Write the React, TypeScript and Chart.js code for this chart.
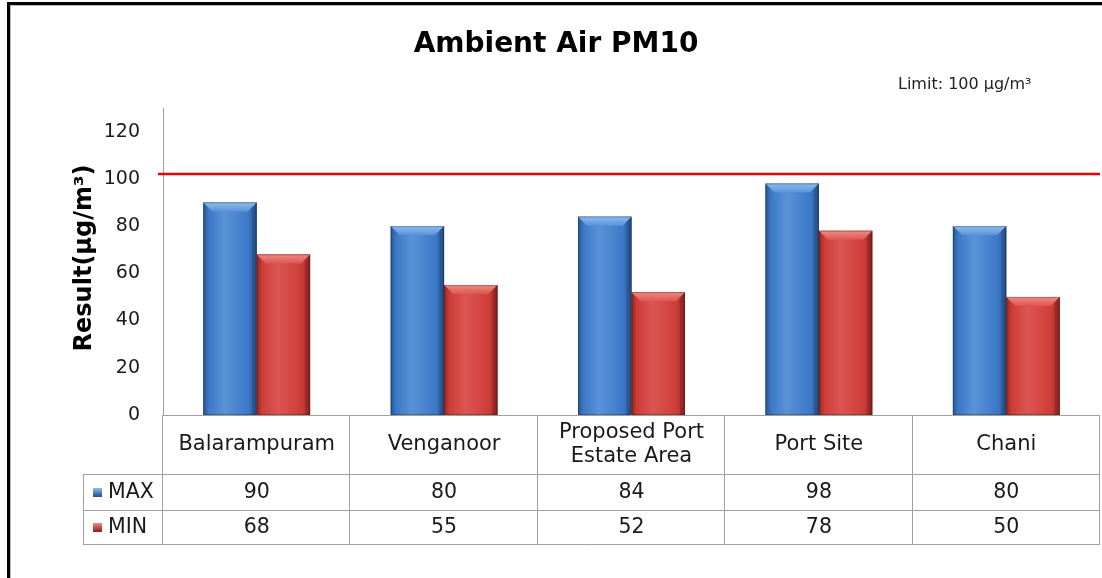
import React, { useEffect, useRef } from "react";
import { Chart, registerables } from "chart.js";

Chart.register(...registerables);

// ---- data ----
const categories: string[][] = [
  ["Balarampuram"],
  ["Venganoor"],
  ["Proposed Port", "Estate Area"],
  ["Port Site"],
  ["Chani"],
];
const maxValues: number[] = [90, 80, 84, 98, 80];
const minValues: number[] = [68, 55, 52, 78, 50];
const seriesNames: string[] = ["MAX", "MIN"];
const yTicks: number[] = [0, 20, 40, 60, 80, 100, 120];
const limitLineValue = 102; // red limit line as drawn in the picture
const titleText = "Ambient Air PM10";
const limitText = "Limit: 100 µg/m³";
const yTitleText = "Result(µg/m³)";

const FONT = "'DejaVu Sans', Verdana, sans-serif";

const palette = {
  blue: { mid: "#3b78c6", light: "#5a92d8", dark: "#2a5690", top: "#8fbcf0" },
  red: { mid: "#cd3d38", light: "#dc5550", dark: "#962623", top: "#f08a84" },
};

const bevelPlugin = {
  id: "bevel",
  afterDatasetsDraw(chart: any) {
    const ctx = chart.ctx;
    chart.data.datasets.forEach((ds: any, di: number) => {
      const meta = chart.getDatasetMeta(di);
      const pal = di === 0 ? palette.blue : palette.red;
      meta.data.forEach((bar: any) => {
        const { x, y, base, width } = bar.getProps(["x", "y", "base", "width"], true);
        const L = x - width / 2;
        const R = x + width / 2;
        const T = y;
        const B = base;
        ctx.save();
        const g = ctx.createLinearGradient(L, 0, R, 0);
        g.addColorStop(0, pal.dark);
        g.addColorStop(0.1, pal.mid);
        g.addColorStop(0.4, pal.light);
        g.addColorStop(0.85, pal.mid);
        g.addColorStop(1, pal.dark);
        ctx.fillStyle = g;
        ctx.fillRect(L, T, R - L, B - T);
        // top bevel
        const b = 9;
        const tg = ctx.createLinearGradient(0, T, 0, T + b);
        tg.addColorStop(0, pal.top);
        tg.addColorStop(1, pal.light);
        ctx.fillStyle = tg;
        ctx.beginPath();
        ctx.moveTo(L, T);
        ctx.lineTo(R, T);
        ctx.lineTo(R - b, T + b);
        ctx.lineTo(L + b, T + b);
        ctx.closePath();
        ctx.fill();
        // right side shade
        ctx.fillStyle = "rgba(0,0,0,0.12)";
        ctx.beginPath();
        ctx.moveTo(R, T);
        ctx.lineTo(R, B);
        ctx.lineTo(R - 5, B);
        ctx.lineTo(R - 5, T + 5);
        ctx.closePath();
        ctx.fill();
        ctx.strokeStyle = "rgba(0,0,0,0.25)";
        ctx.lineWidth = 1;
        ctx.strokeRect(L + 0.5, T + 0.5, R - L - 1, B - T - 1);
        ctx.restore();
      });
    });
  },
};

const decorPlugin = {
  id: "decor",
  afterDraw(chart: any) {
    const ctx = chart.ctx;
    const area = chart.chartArea;
    const xs = chart.scales.x;
    const ys = chart.scales.y;
    ctx.save();
    // frame
    ctx.fillStyle = "#000";
    ctx.fillRect(7, 2, 1102 - 7, 3);
    ctx.fillRect(7, 2, 3, 578);
    ctx.fillStyle = "#bbb";
    ctx.fillRect(10, 5, 1102 - 10, 1);
    ctx.fillRect(10, 5, 1, 578);

    // title
    ctx.fillStyle = "#000";
    ctx.font = `bold 28px ${FONT}`;
    ctx.textAlign = "center";
    ctx.textBaseline = "middle";
    ctx.fillText(titleText, 556, 45);

    // limit text
    ctx.font = `16px ${FONT}`;
    ctx.fillStyle = "#222";
    ctx.textAlign = "left";
    ctx.fillText(limitText, 898, 85);

    // y title
    ctx.save();
    ctx.translate(85, 258);
    ctx.rotate(-Math.PI / 2);
    ctx.font = `bold 24px ${FONT}`;
    ctx.fillStyle = "#000";
    ctx.textAlign = "center";
    ctx.fillText(yTitleText, 0, 0);
    ctx.restore();

    // limit line
    const ly = ys.getPixelForValue(limitLineValue);
    ctx.strokeStyle = "#e8000b";
    ctx.lineWidth = 2.5;
    ctx.beginPath();
    ctx.moveTo(area.left - 5, ly);
    ctx.lineTo(area.right, ly);
    ctx.stroke();

    // data table
    const n = categories.length;
    const step = (area.right - area.left) / n;
    const top = area.bottom;
    const r1 = top + 59;
    const r2 = r1 + 36;
    const r3 = r2 + 34;
    const legLeft = 83;
    ctx.strokeStyle = "#a0a0a0";
    ctx.lineWidth = 1;
    ctx.beginPath();
    ctx.moveTo(area.left, top + 0.5);
    ctx.lineTo(area.right, top + 0.5);
    [r1, r2, r3].forEach((yy) => {
      ctx.moveTo(legLeft, yy + 0.5);
      ctx.lineTo(area.right, yy + 0.5);
    });
    for (let i = 0; i <= n; i++) {
      const xx = Math.round(area.left + i * step) - 0.5;
      ctx.moveTo(xx, top);
      ctx.lineTo(xx, r3);
    }
    ctx.moveTo(legLeft + 0.5, r1);
    ctx.lineTo(legLeft + 0.5, r3);
    ctx.stroke();

    ctx.fillStyle = "#1a1a1a";
    ctx.textAlign = "center";
    ctx.textBaseline = "middle";
    categories.forEach((lines, i) => {
      const cx = xs.getPixelForValue(i);
      const cy = (top + r1) / 2;
      const lh = 24;
      ctx.font = `21px ${FONT}`;
      lines.forEach((ln, k) => {
        ctx.fillText(ln, cx, cy + (k - (lines.length - 1) / 2) * lh);
      });
      ctx.font = `20.5px ${FONT}`;
      ctx.fillText(String(maxValues[i]), cx, (r1 + r2) / 2 + 1);
      ctx.fillText(String(minValues[i]), cx, (r2 + r3) / 2 + 1);
    });

    // legend keys
    const rowsTop = [r1, r2];
    const rowsBot = [r2, r3];
    seriesNames.forEach((nm, k) => {
      const pal = k === 0 ? palette.blue : palette.red;
      const cy = (rowsTop[k] + rowsBot[k]) / 2;
      const g = ctx.createLinearGradient(0, cy - 4, 0, cy + 4);
      g.addColorStop(0, pal.top);
      g.addColorStop(1, pal.dark);
      ctx.fillStyle = g;
      ctx.fillRect(93, cy - 4, 9, 9);
      ctx.fillStyle = "#1a1a1a";
      ctx.textAlign = "left";
      ctx.font = `20.5px ${FONT}`;
      ctx.fillText(nm, 108, cy + 1);
    });
    ctx.restore();
  },
};

export default function App() {
  const ref = useRef<HTMLCanvasElement | null>(null);
  useEffect(() => {
    document.body.style.margin = "0";
    const canvas = ref.current;
    if (!canvas) return;
    const chart = new Chart(canvas, {
      type: "bar",
      data: {
        labels: categories.map((c) => c.join(" ")),
        datasets: [
          {
            label: seriesNames[0],
            data: maxValues,
            backgroundColor: palette.blue.mid,
            categoryPercentage: 0.57,
            barPercentage: 1,
          },
          {
            label: seriesNames[1],
            data: minValues,
            backgroundColor: palette.red.mid,
            categoryPercentage: 0.57,
            barPercentage: 1,
          },
        ],
      },
      options: {
        animation: false,
        responsive: false,
        layout: { padding: { top: 108, bottom: 163, left: 0, right: 2 } },
        plugins: {
          legend: { display: false },
          title: { display: false },
          tooltip: { enabled: false },
        },
        scales: {
          x: { display: false },
          y: {
            min: 0,
            max: 130,
            afterBuildTicks: (scale: any) => {
              scale.ticks = yTicks.map((v) => ({ value: v }));
            },
            afterFit: (scale: any) => {
              scale.width = 163;
            },
            grid: { display: false, drawTicks: false },
            border: { display: true, color: "#a0a0a0", width: 1 },
            ticks: {
              color: "#1a1a1a",
              padding: 23,
              font: { family: FONT, size: 19 },
            },
          },
        },
      },
      plugins: [bevelPlugin, decorPlugin],
    });
    return () => chart.destroy();
  }, []);
  return (
    <div style={{ width: 1102, height: 578, background: "#fff" }}>
      <canvas ref={ref} width={1102} height={578} style={{ display: "block" }} />
    </div>
  );
}
